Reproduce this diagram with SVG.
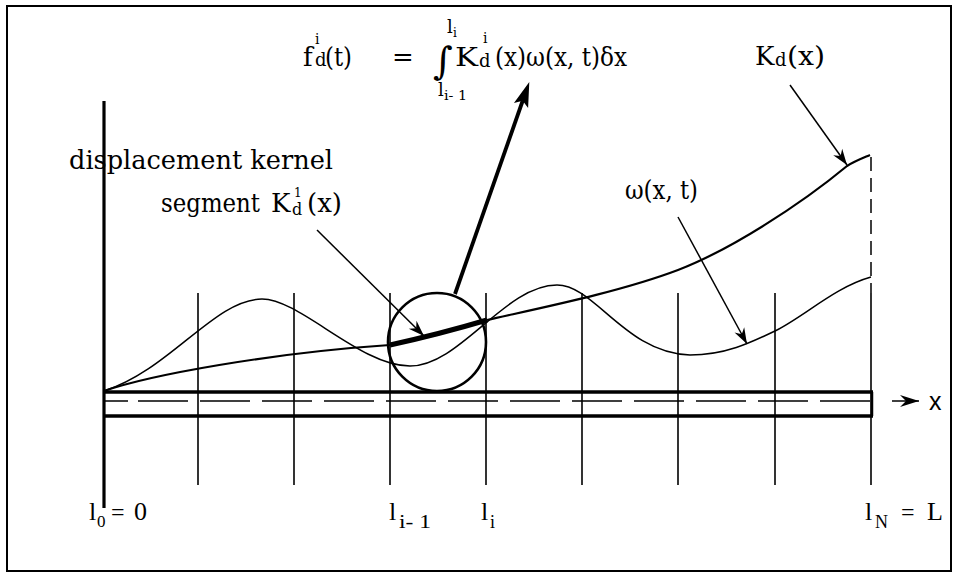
<svg xmlns="http://www.w3.org/2000/svg" width="959" height="579" viewBox="0 0 959 579">
<style>
.serif{font-family:"DejaVu Serif","Liberation Serif",serif;fill:#000}
.times{font-family:"Liberation Serif","DejaVu Serif",serif;fill:#000}
.big{font-size:26px}
.sup{font-size:14px}
.sub{font-size:18px}
.thin{fill:none;stroke:#000;stroke-width:1.5}
.grid{stroke:#000;stroke-width:1.6}
.rail{stroke:#000;stroke-width:3.5;fill:none}
</style>
<defs>
<marker id="ah" viewBox="-17 -7 19 14" refX="0" refY="0" markerWidth="19" markerHeight="14" orient="auto" markerUnits="userSpaceOnUse">
<path d="M0,0 L-16,-5.5 L-11,0 L-16,5.5 Z" fill="#000"/>
</marker>
<marker id="ahBig" viewBox="-12 -9 30 18" refX="0" refY="0" markerWidth="30" markerHeight="18" orient="auto" markerUnits="userSpaceOnUse">
<path d="M16,0 L-9,-7.5 L-4,0 L-9,7.5 Z" fill="#000"/>
</marker>
<marker id="ahX" viewBox="-20 -7 22 14" refX="0" refY="0" markerWidth="22" markerHeight="14" orient="auto" markerUnits="userSpaceOnUse">
<path d="M0,0 L-19,-6 L-13,0 L-19,6 Z" fill="#000"/>
</marker>
</defs>
<rect width="959" height="579" fill="#fff"/>
<rect id="frame" x="7" y="6" width="944" height="565" fill="none" stroke="#000" stroke-width="2"/>

<g id="beam">
<line x1="104" y1="101" x2="104" y2="508" stroke="#000" stroke-width="3.2"/>
<line class="rail" x1="104" y1="392" x2="873" y2="392"/>
<line class="rail" x1="104" y1="416" x2="873" y2="416"/>
<line x1="872" y1="392" x2="872" y2="416" stroke="#000" stroke-width="2.5"/>
<line x1="104" y1="401" x2="879" y2="401" stroke="#000" stroke-width="1.5" stroke-dasharray="24 10 50 12 50 12 50 12 50 12 50 12 50 12 50 12 50 12 50 12 50 12 50 12 50 12 50 12 25 13 25"/>
</g>

<g id="grid">
<line class="grid" x1="198" y1="293" x2="198" y2="485"/>
<line class="grid" x1="294" y1="293" x2="294" y2="485"/>
<line class="grid" x1="390" y1="293" x2="390" y2="485"/>
<line class="grid" x1="486" y1="293" x2="486" y2="485"/>
<line class="grid" x1="582" y1="293" x2="582" y2="485"/>
<line class="grid" x1="678" y1="293" x2="678" y2="485"/>
<line class="grid" x1="775" y1="293" x2="775" y2="485"/>
<line class="grid" x1="871" y1="293" x2="871" y2="485"/>
<line x1="871" y1="157" x2="871" y2="293" stroke="#000" stroke-width="1.5" stroke-dasharray="14 7"/>
</g>

<g id="omega-curve">
<path class="thin" d="M104,391 C170,370 215,299 262,299 C300,299 360,366 410,366 C460,366 505,285 557,285 C595,285 625,353 690,355 C725,355 750,343 775,331 C805,316 835,287 871,277"/>
</g>

<g id="kernel-curve">
<path fill="none" stroke="#000" stroke-width="2.2" d="M104,391 C150,375 270,353 390,345"/>
<path fill="none" stroke="#000" stroke-width="5" d="M390,345 Q440,334 487,320"/>
<path fill="none" stroke="#000" stroke-width="2.2" d="M487,320 C540,308 620,292 678,270 C730,250 800,205 847,166 C855,161 863,158 870,155"/>
</g>

<g id="segment-circle">
<circle cx="437" cy="342" r="49" fill="none" stroke="#000" stroke-width="2.6"/>
</g>

<g id="connectors">
<line x1="317" y1="230" x2="424" y2="336" class="thin" marker-end="url(#ah)"/>
<line x1="790" y1="85" x2="847" y2="165" class="thin" marker-end="url(#ah)"/>
<line x1="678" y1="217" x2="747" y2="344" class="thin" marker-end="url(#ah)"/>
<line x1="455" y1="294" x2="524" y2="97" stroke="#000" stroke-width="3.8" marker-end="url(#ahBig)"/>
<line x1="892" y1="401" x2="919" y2="401" stroke="#000" stroke-width="1.5" marker-end="url(#ahX)"/>
</g>

<g id="formula" class="serif">
<text x="303" y="66" class="big">f</text>
<text x="315" y="44" class="sup">i</text>
<text x="315" y="66" class="sub">d</text>
<text x="325" y="66" class="big" textLength="27" lengthAdjust="spacingAndGlyphs">(t)</text>
<text x="392" y="66" class="big">=</text>
<text x="433" y="74" font-size="38">∫</text>
<text x="447" y="33" font-size="18">l</text>
<text x="453" y="37" font-size="12">i</text>
<text x="438" y="96" font-size="18">l</text>
<text x="444" y="100" font-size="12" textLength="23" lengthAdjust="spacingAndGlyphs">i- 1</text>
<text x="455" y="66" class="big" textLength="23" lengthAdjust="spacingAndGlyphs">K</text>
<text x="483" y="43" class="sup">i</text>
<text x="479" y="67" class="sub">d</text>
<text x="495" y="66" class="big" textLength="132" lengthAdjust="spacingAndGlyphs">(x)ω(x, t)δx</text>
</g>

<g id="label-kd" class="serif">
<text x="755" y="65" class="big">K</text>
<text x="775" y="66" class="sub">d</text>
<text x="787" y="65" class="big" textLength="38" lengthAdjust="spacingAndGlyphs">(x)</text>
</g>

<g id="label-omega" class="serif">
<text x="625" y="199" class="big" textLength="73" lengthAdjust="spacingAndGlyphs">ω(x, t)</text>
</g>

<g id="label-segment" class="serif">
<text x="69" y="169" class="big" textLength="264" lengthAdjust="spacingAndGlyphs">displacement kernel</text>
<text x="161" y="212" class="big" textLength="99" lengthAdjust="spacingAndGlyphs">segment</text>
<text x="271" y="212" class="big">K</text>
<text x="294" y="197" font-size="12">1</text>
<text x="292" y="215" font-size="16">d</text>
<text x="307" y="212" class="big" textLength="35" lengthAdjust="spacingAndGlyphs">(x)</text>
</g>

<g id="label-x">
<text x="929" y="410" font-family="Liberation Sans, Arial, sans-serif" font-size="25">x</text>
</g>

<g id="station-labels" class="times">
<text x="89" y="520" font-size="26">l</text>
<text x="97" y="527" font-size="17">0</text>
<text x="111" y="520" font-size="24">=</text>
<text x="134" y="520" font-size="26">0</text>
<text x="389" y="520" font-size="26">l</text>
<text x="399" y="528" font-size="18" textLength="32" lengthAdjust="spacingAndGlyphs">i- 1</text>
<text x="481" y="520" font-size="26">l</text>
<text x="490" y="528" font-size="18">i</text>
<text x="865" y="520" font-size="26">l</text>
<text x="875" y="528" font-size="18">N</text>
<text x="901" y="520" font-size="24">=</text>
<text x="927" y="520" font-size="26">L</text>
</g>
</svg>
